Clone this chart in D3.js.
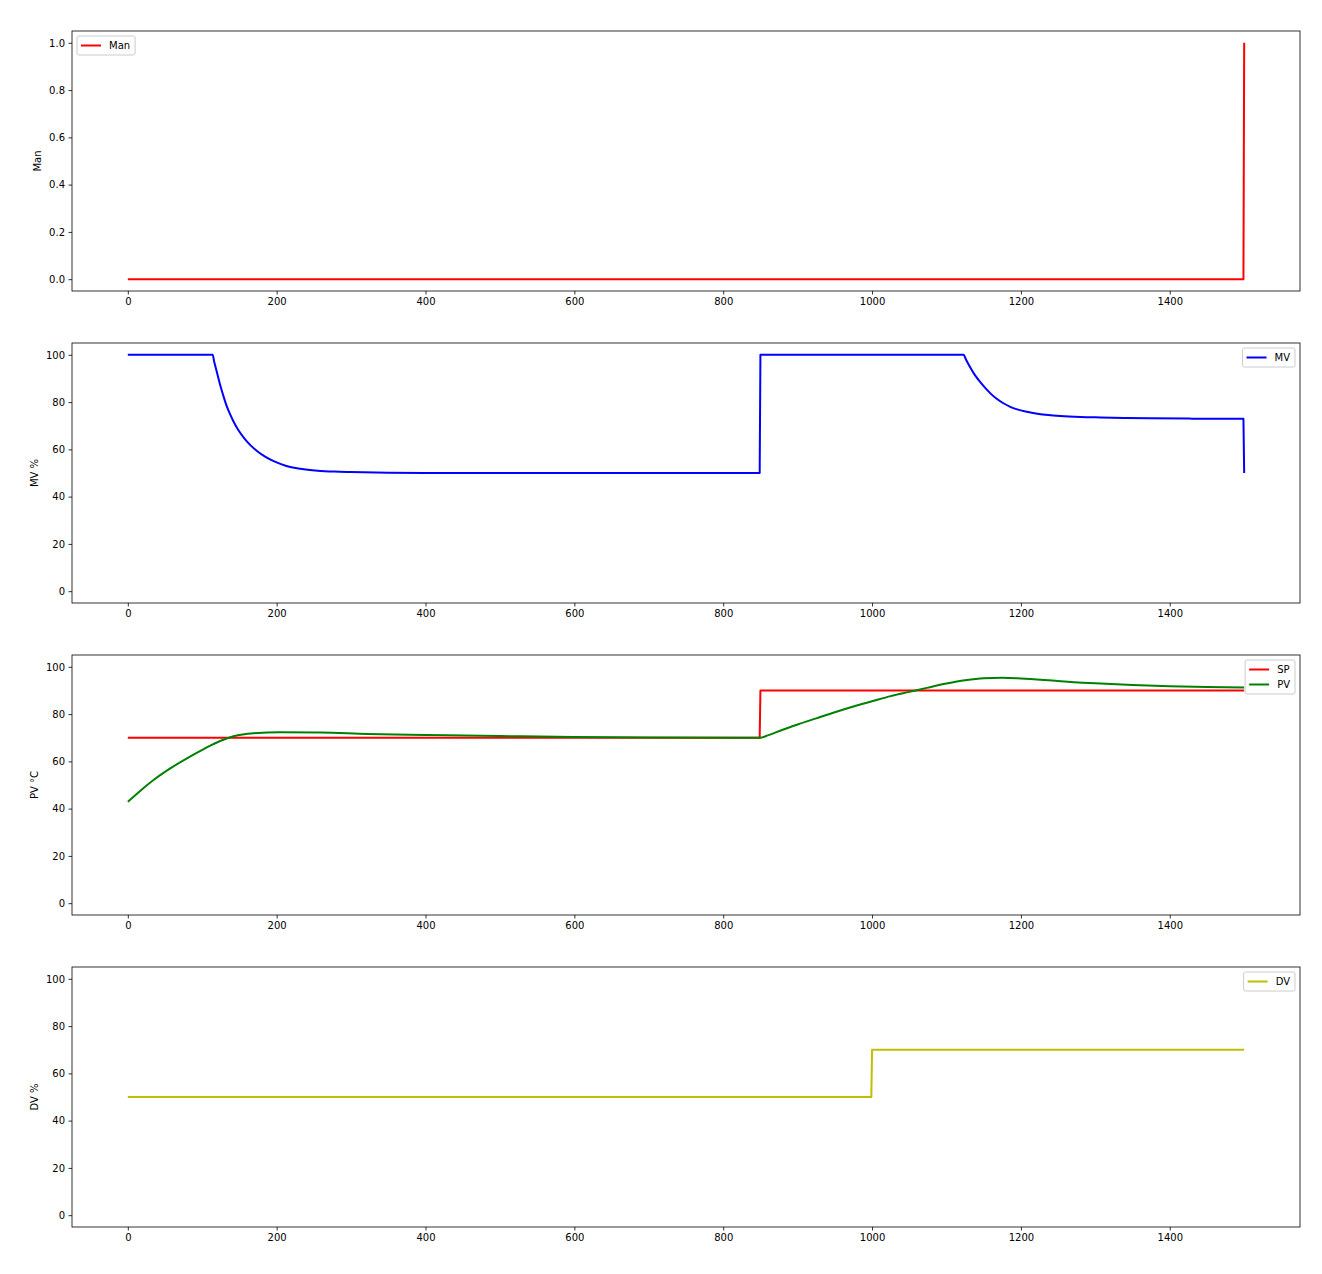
<!DOCTYPE html>
<html><head><meta charset="utf-8">
<script src="https://cdn.jsdelivr.net/npm/d3@7"></script>
<style>body{margin:0;background:#fff}svg{display:block;font-family:"DejaVu Sans",sans-serif}</style>
</head><body><svg id="c" width="1322" height="1274"></svg>
<script>
// ---- data ----
const xTicks = [0, 200, 400, 600, 800, 1000, 1200, 1400];
const manT = [0, 1499, 1500];
const manV = [0, 0, 1];
const mvT = [0, 114, 116, 119, 124, 129, 133, 138, 142, 148, 156, 164, 174, 185, 196, 212, 232, 255, 277, 300, 350, 400, 500, 849, 850, 1123, 1126, 1129, 1132, 1138, 1146, 1152, 1159, 1167, 1177, 1185, 1195, 1208, 1222, 1237, 1253, 1280, 1307, 1340, 1374, 1430, 1499, 1500];
const mvV = [100, 100, 97.2, 93.5, 87.3, 82.0, 78.2, 74.5, 71.8, 68.4, 64.9, 62.0, 59.2, 56.8, 55.0, 53.1, 51.8, 51.0, 50.6, 50.4, 50.15, 50.05, 50, 50, 100, 100, 98.1, 96.3, 94.6, 91.5, 88.2, 86.0, 83.7, 81.5, 79.4, 78.1, 76.9, 75.9, 75.1, 74.5, 74.1, 73.7, 73.5, 73.3, 73.2, 73.0, 72.9, 50];
const spT = [0, 849, 850, 1500];
const spV = [70, 70, 90, 90];
const pvT = [0, 17, 35, 57, 80, 102, 124, 142, 169, 205, 259, 322, 400, 500, 600, 700, 850, 860, 880, 900, 925, 950, 975, 1000, 1025, 1050, 1075, 1100, 1125, 1150, 1175, 1200, 1250, 1300, 1350, 1400, 1450, 1500];
const pvV = [42.9, 47.6, 52.2, 57.0, 61.4, 65.2, 68.6, 70.6, 71.9, 72.3, 72.2, 71.6, 71.2, 70.7, 70.3, 70.1, 70.0, 71.0, 73.4, 75.6, 78.2, 80.8, 83.2, 85.4, 87.6, 89.4, 91.2, 92.9, 94.3, 95.2, 95.4, 95.1, 94.0, 93.0, 92.3, 91.8, 91.5, 91.2];
const dvT = [0, 999, 1000, 1500];
const dvV = [50, 50, 70, 70];
const manTicks = [0, 0.2, 0.4, 0.6, 0.8, 1.0];
const pctTicks = [0, 20, 40, 60, 80, 100];

const panels = [
  {top: 31, ylab: "Man", yd: [-0.05, 1.05], ticks: manTicks, fmt: d3.format(".1f"), legend: "left",
   series: [{t: manT, v: manV, c: "#ff0000", name: "Man", smooth: false}]},
  {top: 343, ylab: "MV %", yd: [-5, 105], ticks: pctTicks, fmt: d3.format("d"), legend: "right",
   series: [{t: mvT, v: mvV, c: "#0000ff", name: "MV", smooth: true}]},
  {top: 655, ylab: "PV °C", yd: [-5, 105], ticks: pctTicks, fmt: d3.format("d"), legend: "right",
   series: [{t: spT, v: spV, c: "#ff0000", name: "SP", smooth: false}, {t: pvT, v: pvV, c: "#008000", name: "PV", smooth: true}]},
  {top: 967, ylab: "DV %", yd: [-5, 105], ticks: pctTicks, fmt: d3.format("d"), legend: "right",
   series: [{t: dvT, v: dvV, c: "#bfbf00", name: "DV", smooth: false}]}
];

const svg = d3.select("#c");
const L = 72, R = 1300, H = 260;
const x = d3.scaleLinear().domain([-75, 1575]).range([L, R]);

function buildPath(pts, y, smooth) {
  if (!smooth) return d3.line().x(d => x(d[0])).y(d => y(d[1]))(pts);
  const segs = [[pts[0]]];
  for (let i = 1; i < pts.length; i++) {
    const a = pts[i - 1], b = pts[i];
    if (b[0] - a[0] <= 1.01 && Math.abs(b[1] - a[1]) > 5) segs.push([b]);
    else segs[segs.length - 1].push(b);
  }
  const ln = d3.line().curve(d3.curveMonotoneX).x(d => x(d[0])).y(d => y(d[1]));
  return segs.map((s, i) => {
    const d = s.length > 1 ? ln(s) : `M${x(s[0][0])},${y(s[0][1])}`;
    return i === 0 ? d : "L" + d.slice(1);
  }).join("");
}

panels.forEach(p => {
  const y = d3.scaleLinear().domain(p.yd).range([p.top + H, p.top]);
  const g = svg.append("g");
  const xa = g.append("g").attr("transform", `translate(0,${p.top + H})`)
    .call(d3.axisBottom(x).tickValues(xTicks).tickFormat(d3.format("d")).tickSizeOuter(0).tickSize(3.5).tickPadding(3.5));
  const ya = g.append("g").attr("transform", `translate(${L},0)`)
    .call(d3.axisLeft(y).tickValues(p.ticks).tickFormat(p.fmt).tickSizeOuter(0).tickSize(3.5).tickPadding(3.5));
  [xa, ya].forEach(a => {
    a.select(".domain").remove();
    a.selectAll("text").attr("font-size", 10).attr("fill", "#000").attr("font-family", "DejaVu Sans");
    a.selectAll("line").attr("stroke", "#000").attr("stroke-width", 0.8);
  });
  const clipId = "clip" + p.top;
  g.append("clipPath").attr("id", clipId).append("rect").attr("x", L).attr("y", p.top).attr("width", R - L).attr("height", H);
  p.series.forEach(s => {
    const pts = s.t.map((t, i) => [t, s.v[i]]);
    g.append("path").attr("clip-path", `url(#${clipId})`)
      .attr("fill", "none").attr("stroke", s.c).attr("stroke-width", 2).attr("stroke-linejoin", "round")
      .attr("d", buildPath(pts, y, s.smooth));
  });
  g.append("rect").attr("x", L).attr("y", p.top).attr("width", R - L).attr("height", H)
    .attr("fill", "none").attr("stroke", "#000").attr("stroke-width", 0.8);
  let minX = Infinity;
  ya.selectAll("text").each(function() { const b = this.getBBox(); minX = Math.min(minX, L + b.x); });
  g.append("text").attr("transform", `translate(${minX - 4 - 4},${p.top + H / 2}) rotate(-90)`)
    .attr("text-anchor", "middle").attr("font-size", 10).attr("fill", "#000").text(p.ylab);
  const n = p.series.length;
  const texts = p.series.map(s => s.name);
  const lg = g.append("g");
  const tmp = lg.append("text").attr("font-size", 10);
  let tw = 0;
  texts.forEach(t => { tmp.text(t); tw = Math.max(tw, tmp.node().getComputedTextLength()); });
  tmp.remove();
  const bw = 4 + 20 + 8 + tw + 4 + 1, bh = 4 + n * 10 + (n - 1) * 5 + 4 + 1;
  const bx = p.legend === "left" ? L + 5 : R - 5 - bw;
  const by = p.top + 5;
  lg.append("rect").attr("x", bx).attr("y", by).attr("width", bw).attr("height", bh).attr("rx", 2)
    .attr("fill", "#fff").attr("fill-opacity", 0.8).attr("stroke", "#cccccc").attr("stroke-width", 1);
  p.series.forEach((s, i) => {
    const cy = by + 4.5 + 5 + i * 15;
    lg.append("line").attr("x1", bx + 4).attr("x2", bx + 24).attr("y1", cy).attr("y2", cy)
      .attr("stroke", s.c).attr("stroke-width", 2);
    lg.append("text").attr("x", bx + 32).attr("y", cy).attr("dy", "0.35em").attr("font-size", 10)
      .attr("fill", "#000").text(s.name);
  });
});
</script></body></html>
